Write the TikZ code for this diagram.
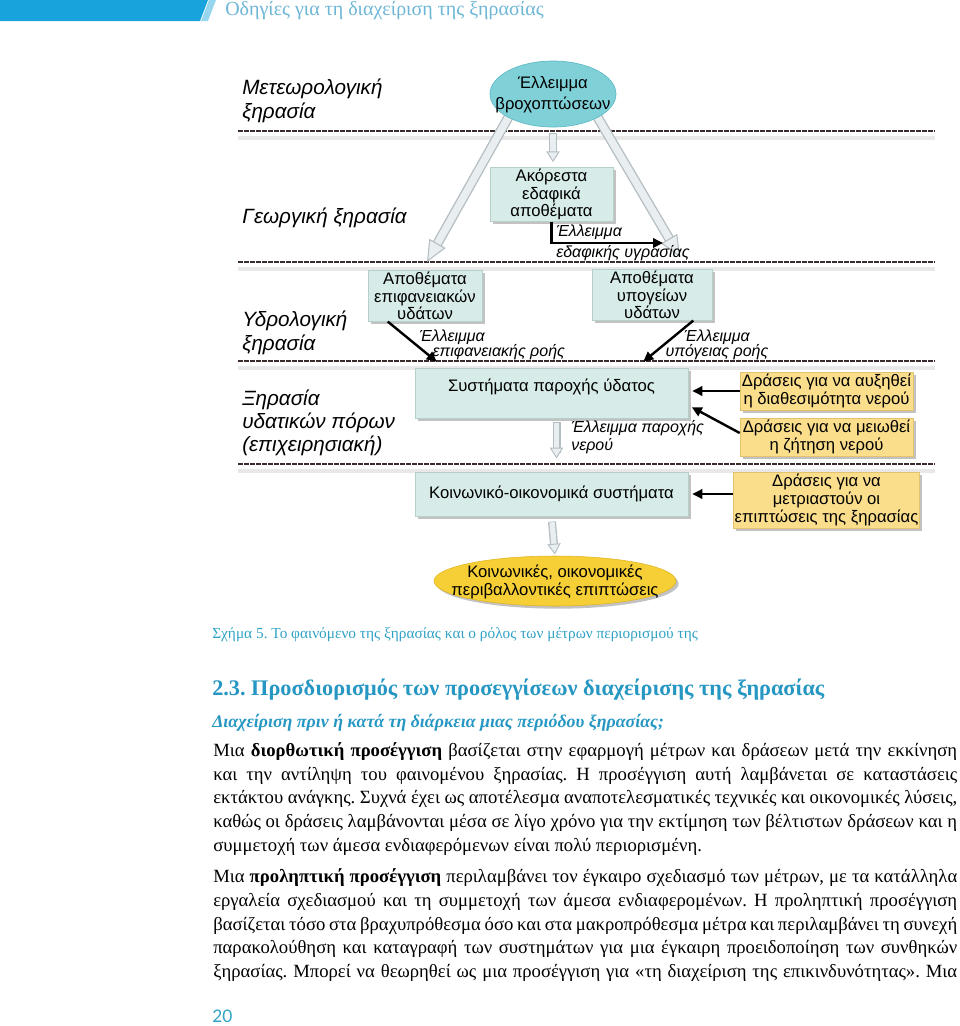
\documentclass[tikz,border=0pt]{standalone}
\usepackage{fontspec}
\setmainfont{Liberation Serif}
\newfontfamily\dsans{Liberation Sans}
\newfontfamily\numfont{Lato}
\usetikzlibrary{shapes.geometric, arrows.meta, shadows, calc, backgrounds}
\frenchspacing

\definecolor{boxfill}{HTML}{D7ECE8}
\definecolor{boxedge}{HTML}{B5CFCB}
\definecolor{yelfill}{HTML}{FADE8C}
\definecolor{yeledge}{HTML}{E2C26C}
\definecolor{rainfill}{HTML}{80D0D8}
\definecolor{rainedge}{HTML}{5FB9C5}
\definecolor{impfill}{HTML}{F6CE36}
\definecolor{impedge}{HTML}{E0B420}
\definecolor{captcol}{HTML}{2FA2C4}
\definecolor{headcol}{HTML}{2697C3}
\definecolor{hdrtxt}{HTML}{6DB6D6}
\definecolor{barblue}{HTML}{19A3DC}
\definecolor{dashcol}{HTML}{3A2C2C}
\definecolor{arrfill}{HTML}{E9EEF0}
\definecolor{arredge}{HTML}{B4BEC3}

\begin{document}
\begin{tikzpicture}[x=0.75pt, y=-0.75pt,
  tbox/.style={rectangle, fill=boxfill, draw=boxedge, line width=0.4pt, align=center, inner sep=1pt,
    font=\dsans\fontsize{12.5}{13.2}\selectfont,
    drop shadow={shadow xshift=2pt, shadow yshift=-2pt, fill=black!60, opacity=0.4}},
  ybox/.style={tbox, fill=yelfill, draw=yeledge},
  lbl/.style={anchor=west, align=left, inner sep=0pt, font=\dsans\itshape\fontsize{15.5}{17.5}\selectfont},
  smlbl/.style={inner sep=0pt, font=\dsans\itshape\fontsize{12}{13}\selectfont},
  blk/.style={draw=black, line width=1.8pt, -{Triangle[length=7.5pt,width=7pt]}},
  bodyl/.style={anchor=west, inner sep=0pt, font=\fontsize{14}{16}\selectfont},
  dline/.style={draw=dashcol, line width=1.6pt, dash pattern=on 3.5pt off 1pt},
  dshadow/.style={draw=black!9, line width=2.5pt},
]
\useasboundingbox (0,0) rectangle (960,1026);

% header
\fill[barblue] (0,0) -- (208,0) -- (200,21) -- (0,21) -- cycle;
\fill[barblue!45!white] (209,0) -- (216,0) -- (208,21) -- (201,21) -- cycle;
\node[anchor=west, inner sep=0pt, text=hdrtxt, font=\fontsize{15}{16}\selectfont] (hdr) at (225,11) {Οδηγίες για τη διαχείριση της ξηρασίας};

% left labels
\node[lbl] (lmet) at (242,101) {Μετεωρολογική\\ξηρασία};
\node[lbl] (lagr) at (242,218) {Γεωργική ξηρασία};
\node[lbl] (lhyd) at (242,333) {Υδρολογική\\ξηρασία};
\node[lbl] (lwat) at (242,423) {Ξηρασία\\υδατικών πόρων\\(επιχειρησιακή)};

% main nodes
\node[ellipse, fill=rainfill, draw=rainedge, line width=0.5pt, minimum width=94.5pt, minimum height=49.5pt, inner sep=0pt] (rain) at (553,94) {};
\node[align=center, inner sep=0pt, font=\dsans\fontsize{12.5}{16}\selectfont] (raintxt) at (553,95) {Έλλειμμα\\βροχοπτώσεων};

\node[tbox, minimum width=92.3pt, minimum height=39.8pt] (akor) at (551.5,194.5) {Ακόρεστα\\εδαφικά\\αποθέματα};
\node[tbox, minimum width=85.5pt, minimum height=37.5pt] (surf) at (425,296) {Αποθέματα\\επιφανειακών\\υδάτων};
\node[tbox, minimum width=90pt, minimum height=36pt] (ground) at (652,295) {Αποθέματα\\υπογείων\\υδάτων};
\node[tbox, minimum width=204.75pt, minimum height=37.5pt, text depth=12pt] (syst) at (551.5,393) {Συστήματα παροχής ύδατος};
\node[tbox, minimum width=204.75pt, minimum height=33pt] (koin) at (551.5,494) {Κοινωνικό-οικονομικά συστήματα};
\node[ybox, minimum width=129.75pt, minimum height=28.5pt] (act1) at (826.5,391) {Δράσεις για να αυξηθεί\\η διαθεσιμότητα νερού};
\node[ybox, minimum width=129.75pt, minimum height=28.5pt] (act2) at (826.5,437) {Δράσεις για να μειωθεί\\η ζήτηση νερού};
\node[ybox, minimum width=129.75pt, minimum height=42pt] (act3) at (826.5,500) {Δράσεις για να\\μετριαστούν οι\\επιπτώσεις της ξηρασίας};
\node[ellipse, fill=impfill, draw=impedge, line width=0.4pt, minimum width=181.5pt, minimum height=37.5pt, inner sep=0pt,
  drop shadow={shadow xshift=2pt, shadow yshift=-2pt, fill=black!60, opacity=0.4}] (imp) at (555,581) {};
\node[align=center, inner sep=0pt, font=\dsans\fontsize{12.5}{14}\selectfont] (imptxt) at (555,582) {Κοινωνικές, οικονομικές\\περιβαλλοντικές επιπτώσεις};

% small italic labels
\node[smlbl, anchor=west, align=left] (soillbl) at (556,243) {Έλλειμμα\\[3pt]εδαφικής υγρασίας};
\node[smlbl, anchor=west, align=left, font=\dsans\itshape\fontsize{12}{11.5}\selectfont] (surflbl) at (419,345) {Έλλειμμα\\\hspace*{10pt}επιφανειακής ροής};
\node[smlbl, align=center, font=\dsans\itshape\fontsize{12}{11.5}\selectfont] (gndlbl) at (717,345) {Έλλειμμα\\υπόγειας ροής};
\node[smlbl, anchor=west, align=left, font=\dsans\itshape\fontsize{12}{14}\selectfont] (suplbl) at (571,437) {Έλλειμμα παροχής\\νερού};

\coordinate (lt) at (427,262);
\coordinate (rt) at (680,257);
\coordinate (soilend) at (663,243);

\begin{scope}[on background layer]
  \foreach \yy in {131,262,361,464} {
    \draw[dshadow] (238,\yy+7) -- (935,\yy+7);
    \draw[dline] (238,\yy) -- (935,\yy);
  }
  % big grey arrows
  \draw[line width=7.5pt, draw=arredge, shorten >=12pt] (rain.south west) -- (lt);
  \draw[line width=5.5pt, draw=arrfill, shorten >=12pt] (rain.south west) -- (lt);
  \draw[line width=0.1pt, draw=arrfill, -{Triangle[length=16pt,width=14pt,color=arredge,fill=arrfill,line width=0.8pt]}] (rain.south west) -- (lt);
  \draw[line width=7.5pt, draw=arredge, shorten >=12pt] (rain.south east) -- (rt);
  \draw[line width=5.5pt, draw=arrfill, shorten >=12pt] (rain.south east) -- (rt);
  \draw[line width=0.1pt, draw=arrfill, -{Triangle[length=16pt,width=14pt,color=arredge,fill=arrfill,line width=0.8pt]}] (rain.south east) -- (rt);
  % small grey arrows
  \draw[line width=6pt, draw=arredge, shorten <=4.5pt, shorten >=8pt] (rain.south) -- (rain.south |- akor.north);
  \draw[line width=4pt, draw=arrfill, shorten <=5pt, shorten >=8pt] (rain.south) -- (rain.south |- akor.north);
  \draw[line width=0.1pt, draw=arrfill, shorten <=5pt, shorten >=4pt, -{Triangle[length=8pt,width=10pt,color=arredge,fill=arrfill,line width=0.7pt]}] (rain.south) -- (rain.south |- akor.north);
  \draw[line width=6pt, draw=arredge, shorten <=3pt, shorten >=14pt] ($(syst.south)+(5,0)$) -- ($(koin.north)+(5,0)$);
  \draw[line width=4pt, draw=arrfill, shorten <=3.5pt, shorten >=14pt] ($(syst.south)+(5,0)$) -- ($(koin.north)+(5,0)$);
  \draw[line width=0.1pt, draw=arrfill, shorten <=3.5pt, shorten >=10pt, -{Triangle[length=8pt,width=10pt,color=arredge,fill=arrfill,line width=0.7pt]}] ($(syst.south)+(5,0)$) -- ($(koin.north)+(5,0)$);
  \draw[line width=6pt, draw=arredge, shorten <=4pt, shorten >=6pt] (koin.south) -- (imp.north);
  \draw[line width=4pt, draw=arrfill, shorten <=4.5pt, shorten >=6pt] (koin.south) -- (imp.north);
  \draw[line width=0.1pt, draw=arrfill, shorten <=4.5pt, shorten >=1pt, -{Triangle[length=8pt,width=10pt,color=arredge,fill=arrfill,line width=0.7pt]}] (koin.south) -- (imp.north);
\end{scope}

% black arrows
\draw[blk] (akor.south) |- (soilend);
\draw[blk] ($(surf.south west)+(20,0)$) -- ($(syst.north west)+(22,-6)$);
\draw[blk] ($(ground.south east)+(-19,0)$) -- ($(syst.north east)+(-45,-6)$);
\draw[blk, shorten >=3pt] (act1.west) -- (act1.west -| syst.east);
\draw[blk, shorten >=3pt] ($(act2.west)+(0,-4)$) -- ($(syst.south east)+(0,-13)$);
\draw[blk, shorten >=3pt] (act3.west |- koin.east) -- (koin.east);

% caption and text
\node[anchor=west, inner sep=0pt, text=captcol, font=\fontsize{11.5}{13}\selectfont] (cap) at (212,635) {Σχήμα 5. Το φαινόμενο της ξηρασίας και ο ρόλος των μέτρων περιορισμού της};
\node[anchor=west, inner sep=0pt, text=headcol, font=\bfseries\fontsize{16.7}{18}\selectfont] (head) at (212,690) {2.3. Προσδιορισμός των προσεγγίσεων διαχείρισης της ξηρασίας};
\node[anchor=west, inner sep=0pt, text=headcol, font=\bfseries\itshape\fontsize{13.4}{15}\selectfont] (sub) at (212,723) {Διαχείριση πριν ή κατά τη διάρκεια μιας περιόδου ξηρασίας;};

\node[bodyl] (pa1) at (213,752) {\makebox[558pt][s]{Μια \textbf{διορθωτική προσέγγιση} βασίζεται στην εφαρμογή μέτρων και δράσεων μετά την εκκίνηση}};
\node[bodyl] (pa2) at (213,776) {\makebox[558pt][s]{και την αντίληψη του φαινομένου ξηρασίας. Η προσέγγιση αυτή λαμβάνεται σε καταστάσεις}};
\node[bodyl] (pa3) at (213,799) {\makebox[558pt][s]{εκτάκτου ανάγκης. Συχνά έχει ως αποτέλεσμα αναποτελεσματικές τεχνικές και οικονομικές λύσεις,}};
\node[bodyl] (pa4) at (213,823) {\makebox[558pt][s]{καθώς οι δράσεις λαμβάνονται μέσα σε λίγο χρόνο για την εκτίμηση των βέλτιστων δράσεων και η}};
\node[bodyl] (pa5) at (213,847) {συμμετοχή των άμεσα ενδιαφερόμενων είναι πολύ περιορισμένη.};

\node[bodyl] (pb1) at (213,878) {\makebox[558pt][s]{Μια \textbf{προληπτική προσέγγιση} περιλαμβάνει τον έγκαιρο σχεδιασμό των μέτρων, με τα κατάλληλα}};
\node[bodyl] (pb2) at (213,902) {\makebox[558pt][s]{εργαλεία σχεδιασμού και τη συμμετοχή των άμεσα ενδιαφερομένων. Η προληπτική προσέγγιση}};
\node[bodyl] (pb3) at (213,926) {\makebox[558pt][s]{βασίζεται τόσο στα βραχυπρόθεσμα όσο και στα μακροπρόθεσμα μέτρα και περιλαμβάνει τη συνεχή}};
\node[bodyl] (pb4) at (213,949) {\makebox[558pt][s]{παρακολούθηση και καταγραφή των συστημάτων για μια έγκαιρη προειδοποίηση των συνθηκών}};
\node[bodyl] (pb5) at (213,973) {\makebox[558pt][s]{ξηρασίας. Μπορεί να θεωρηθεί ως μια προσέγγιση για «τη διαχείριση της επικινδυνότητας». Μια}};

\node[anchor=west, inner sep=0pt, text=captcol, font=\numfont\fontsize{13}{14}\selectfont] (pg) at (212,1016) {20};
\end{tikzpicture}
\end{document}
